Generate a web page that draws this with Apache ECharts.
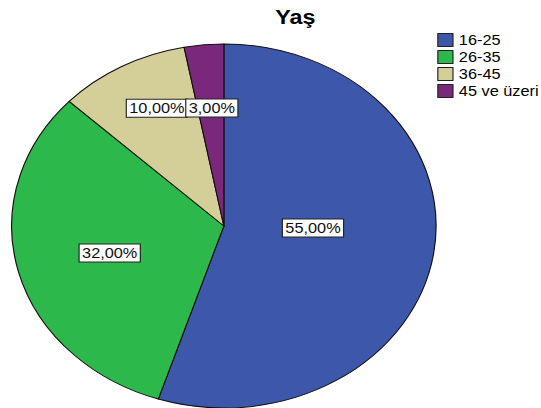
<!DOCTYPE html>
<html><head><meta charset="utf-8">
<script src="https://cdn.jsdelivr.net/npm/echarts@6/dist/echarts.min.js"></script>
<style>
html,body{margin:0;padding:0;background:#fff;overflow:hidden}
#wrap{width:541px;height:408px;overflow:hidden;position:relative}
#chart{position:absolute;left:0;top:0;width:470px;height:408px;transform:scaleX(1.166);transform-origin:0 0}
</style></head>
<body><div id="wrap"><div id="chart"></div></div>
<script>
const title = 'Yaş';
const categories = ['16-25', '26-35', '36-45', '45 ve üzeri'];
const values = [55, 32, 10, 3];
const colors = ['#3d57ab', '#2db84b', '#d4cf99', '#7a287c'];

// layout (unstretched coordinates; the whole chart is stretched horizontally like the source)
const CX = 192, CY = 226, R = 182;
// label anchors: [angle from east, clockwise, deg ; fraction of radius]
const labelAnchors = [[1.5, 0.42], [164.6, 0.558], [-116, 0.72], [-95, 0.651]];

const chart = echarts.init(document.getElementById('chart'), null, {renderer: 'svg'});
chart.setOption({
  animation: false,
  color: colors,
  title: {
    text: title, left: 231, top: 2,
    textStyle: {fontSize: 20, fontWeight: 'bold', fontFamily: 'Liberation Sans', color: '#000'}
  },
  legend: {
    orient: 'vertical', left: 375, top: 33, padding: 0,
    itemWidth: 13, itemHeight: 13, itemGap: 3, icon: 'rect',
    data: categories,
    itemStyle: {borderColor: '#222', borderWidth: 1},
    textStyle: {fontSize: 14, fontFamily: 'Liberation Sans', color: '#000'}
  },
  series: [{
    type: 'pie',
    center: [CX, CY], radius: R,
    startAngle: 90, clockwise: true,
    itemStyle: {borderColor: '#111', borderWidth: 1},
    emphasis: {disabled: true},
    label: {
      show: true, position: 'inside',
      formatter: p => p.value.toFixed(2).replace('.', ',') + '%',
      fontSize: 14, fontFamily: 'Liberation Sans', color: '#111',
      backgroundColor: '#fff', borderColor: '#222', borderWidth: 1,
      padding: [2, 2, 1, 2]
    },
    labelLine: {show: false},
    labelLayout: p => {
      const a = labelAnchors[p.dataIndex];
      const t = a[0] * Math.PI / 180;
      return {x: CX + Math.cos(t) * R * a[1], y: CY + Math.sin(t) * R * a[1], align: 'center', verticalAlign: 'middle'};
    },
    data: categories.map((c, i) => ({name: c, value: values[i]}))
  }]
});
</script>
</body></html>
